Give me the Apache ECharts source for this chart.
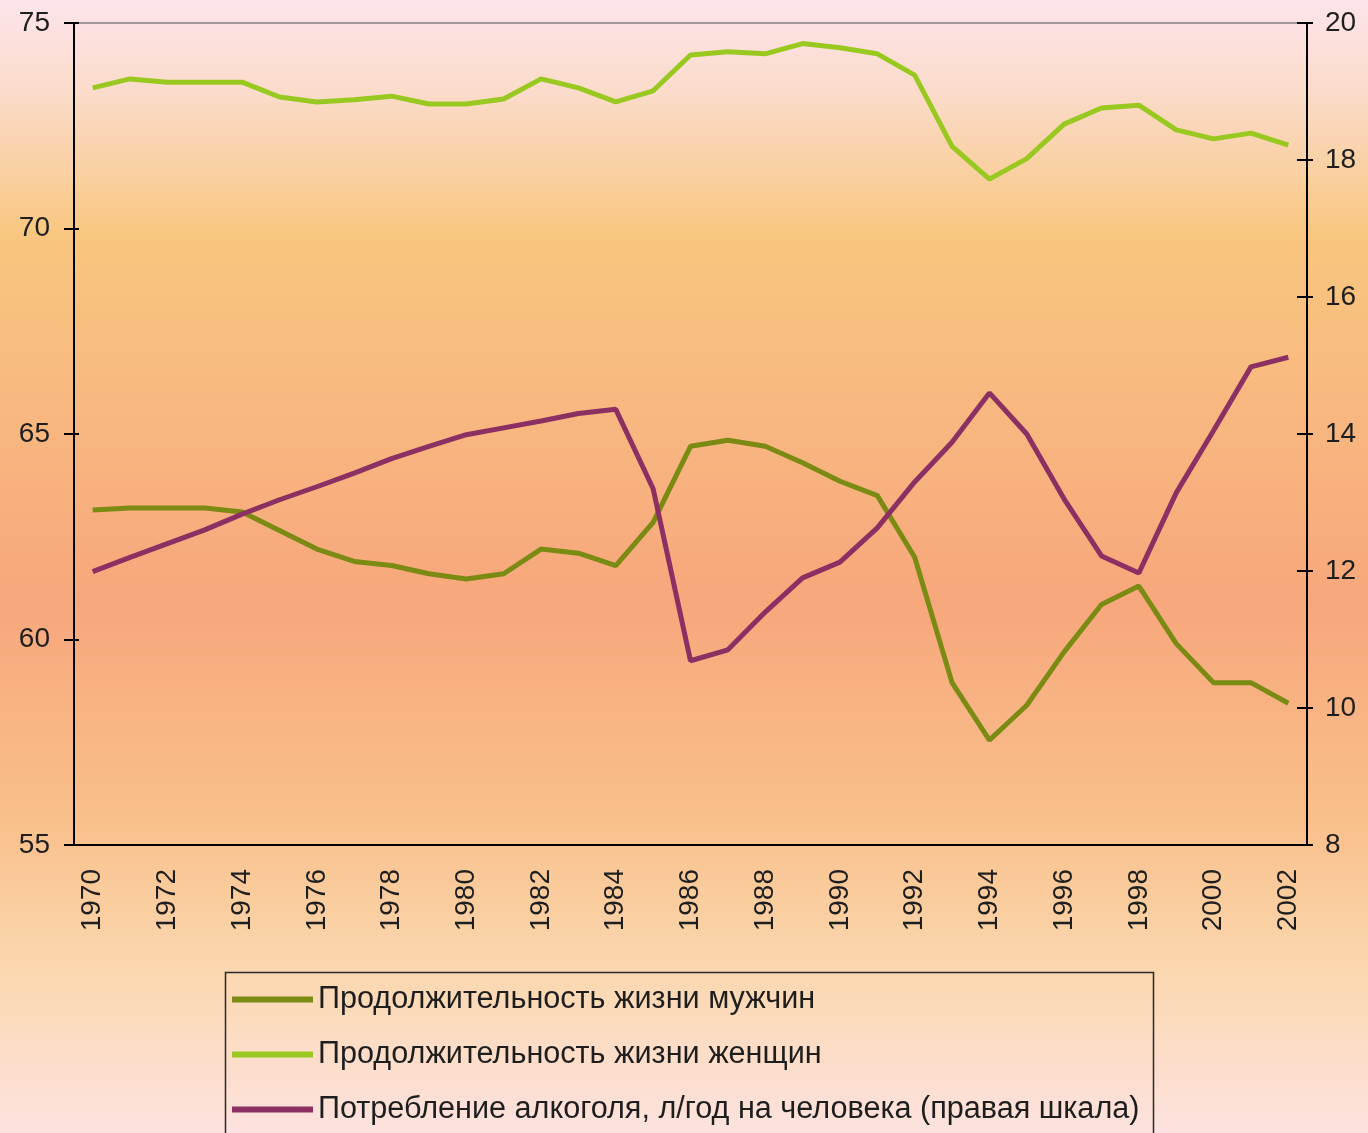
<!DOCTYPE html>
<html>
<head>
<meta charset="utf-8">
<title>Продолжительность жизни и потребление алкоголя</title>
<script src="https://cdn.jsdelivr.net/npm/echarts@6/dist/echarts.min.js"></script>
<style>
  html, body { margin: 0; padding: 0; }
  #chart { width: 1368px; height: 1133px; }
</style>
</head>
<body>
<div id="chart"></div>
<script>
// годы
var years = [];
for (var y = 1970; y <= 2002; y++) {
  years.push(String(y));
}

// продолжительность жизни мужчин, лет (левая шкала)
var menLife = [
  63.15, 63.2, 63.2, 63.2, 63.1, 62.65, 62.2, 61.9, 61.8, 61.6,
  61.47, 61.6, 62.2, 62.1, 61.8, 62.85, 64.7, 64.85, 64.7, 64.3,
  63.85, 63.5, 62.0, 58.95, 57.55, 58.4, 59.7, 60.85, 61.3, 59.9,
  58.95, 58.95, 58.45
];

// продолжительность жизни женщин, лет (левая шкала)
var womenLife = [
  73.42, 73.64, 73.56, 73.56, 73.56, 73.2, 73.08, 73.13, 73.22, 73.03,
  73.03, 73.15, 73.64, 73.42, 73.08, 73.35, 74.22, 74.3, 74.25, 74.5,
  74.4, 74.25, 73.73, 72.0, 71.2, 71.7, 72.54, 72.93, 73.0, 72.4,
  72.18, 72.32, 72.03
];

// потребление алкоголя, л/год на человека (правая шкала)
var alcohol = [
  11.99, 12.2, 12.4, 12.6, 12.83, 13.04, 13.23, 13.43, 13.64, 13.82,
  13.99, 14.09, 14.19, 14.3, 14.36, 13.2, 10.69, 10.85, 11.4, 11.9,
  12.13, 12.63, 13.3, 13.88, 14.6, 14.0, 13.05, 12.22, 11.97, 13.14,
  14.05, 14.98, 15.12
];

var seriesNames = [
  'Продолжительность жизни мужчин',
  'Продолжительность жизни женщин',
  'Потребление алкоголя, л/год на человека (правая шкала)'
];
var seriesColors = ['#7a8a12', '#99c920', '#8c2f62'];

var font = '"Liberation Sans", Arial, sans-serif';
var textColor = '#1e1e1e';

var chart = echarts.init(document.getElementById('chart'));

// засечки с внутренней стороны оси (без линии и подписей)
function tickAxis(extra) {
  var base = {
    axisLine: { show: false },
    axisLabel: { show: false },
    splitLine: { show: false }
  };
  return Object.assign(base, extra);
}

var option = {
  backgroundColor: new echarts.graphic.LinearGradient(0, 0, 0, 1, [
    { offset: 0, color: '#fde4ea' },
    { offset: 0.08, color: '#fbdccb' },
    { offset: 0.21, color: '#f8c67e' },
    { offset: 0.36, color: '#f8b880' },
    { offset: 0.53, color: '#f7a77c' },
    { offset: 0.72, color: '#f9bf8a' },
    { offset: 0.86, color: '#fbd8b0' },
    { offset: 1, color: '#fde2df' }
  ]),
  animation: false,
  textStyle: { fontFamily: font },
  grid: {
    left: 74,
    right: 61,
    top: 23,
    bottom: 288,
    show: true,
    borderColor: '#808080',
    borderWidth: 1.5,
    backgroundColor: 'transparent'
  },
  graphic: [{
    type: 'rect',
    left: 223,
    top: 970,
    shape: { width: 928, height: 200 },
    style: { fill: 'none', stroke: '#2a2a2a', lineWidth: 1.5 },
    z: 1
  }],
  legend: {
    orient: 'vertical',
    left: 232,
    top: 984,
    itemWidth: 81,
    itemHeight: 6,
    itemGap: 24,
    icon: 'rect',
    padding: 0,
    data: seriesNames,
    textStyle: { fontFamily: font, fontSize: 30.6, lineHeight: 30, color: textColor }
  },
  xAxis: [{
    type: 'category',
    data: years,
    boundaryGap: true,
    position: 'bottom',
    axisLine: { lineStyle: { color: '#000', width: 2 } },
    axisTick: { interval: 0, length: 10, lineStyle: { color: '#000', width: 2 } },
    axisLabel: {
      interval: 1,
      rotate: 90,
      margin: 24,
      fontSize: 28,
      color: textColor,
      fontFamily: font
    },
    splitLine: { show: false }
  }, tickAxis({
    type: 'category',
    data: years,
    boundaryGap: true,
    position: 'bottom',
    axisTick: { interval: 0, length: 5, inside: true, lineStyle: { color: '#000', width: 2 } }
  })],
  yAxis: [{
    type: 'value',
    position: 'left',
    min: 55,
    max: 75,
    interval: 5,
    axisLine: { show: true, lineStyle: { color: '#000', width: 2 } },
    axisTick: { show: true, length: 10, lineStyle: { color: '#000', width: 2 } },
    axisLabel: { margin: 24, fontSize: 28, color: textColor, fontFamily: font },
    splitLine: { show: false }
  }, tickAxis({
    type: 'value',
    position: 'left',
    min: 55,
    max: 75,
    interval: 5,
    axisTick: { show: true, inside: true, length: 5, lineStyle: { color: '#000', width: 2 } }
  }), {
    type: 'value',
    position: 'right',
    min: 8,
    max: 20,
    interval: 2,
    axisLine: { show: true, lineStyle: { color: '#000', width: 2 } },
    axisTick: { show: true, length: 6, lineStyle: { color: '#000', width: 2 } },
    axisLabel: { margin: 18, fontSize: 28, color: textColor, fontFamily: font },
    splitLine: { show: false }
  }, tickAxis({
    type: 'value',
    position: 'right',
    min: 8,
    max: 20,
    interval: 2,
    axisTick: { show: true, inside: true, length: 10, lineStyle: { color: '#000', width: 2 } }
  })],
  series: [{
    name: seriesNames[0],
    type: 'line',
    yAxisIndex: 0,
    data: menLife,
    symbol: 'none',
    color: seriesColors[0],
    lineStyle: { width: 5, color: seriesColors[0] },
    z: 3
  }, {
    name: seriesNames[1],
    type: 'line',
    yAxisIndex: 0,
    data: womenLife,
    symbol: 'none',
    color: seriesColors[1],
    lineStyle: { width: 5, color: seriesColors[1] },
    z: 3
  }, {
    name: seriesNames[2],
    type: 'line',
    yAxisIndex: 2,
    data: alcohol,
    symbol: 'none',
    color: seriesColors[2],
    lineStyle: { width: 5, color: seriesColors[2] },
    z: 3
  }]
};

chart.setOption(option);
</script>
</body>
</html>
